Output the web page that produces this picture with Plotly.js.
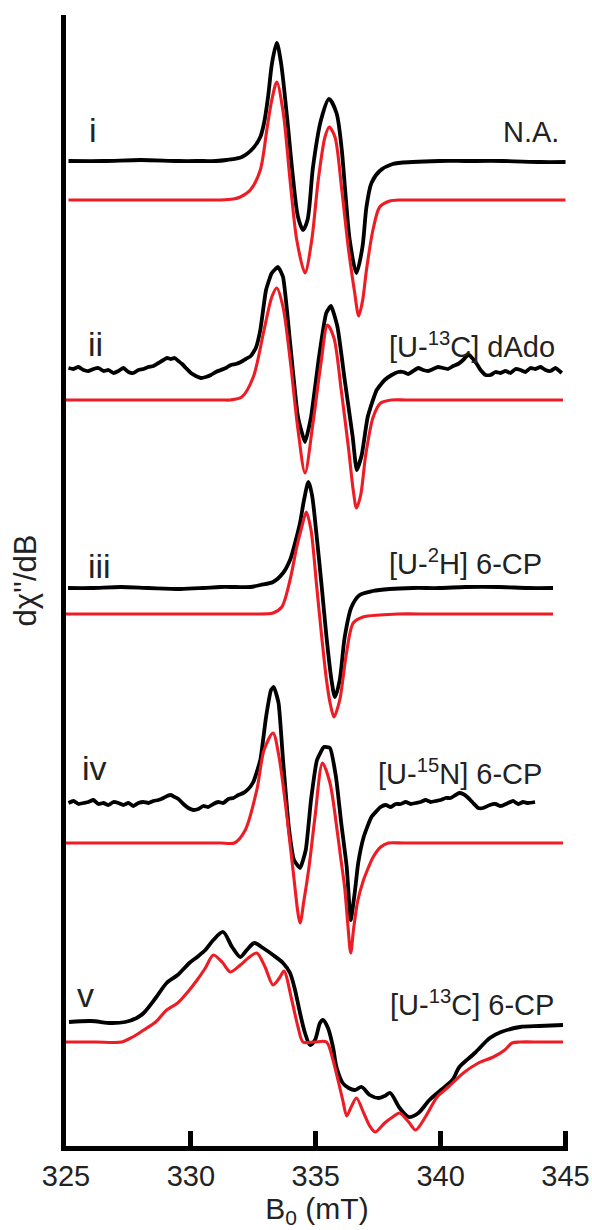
<!DOCTYPE html>
<html><head><meta charset="utf-8">
<script src="https://cdn.plot.ly/plotly-3.0.1.min.js"></script>
<style>html,body{margin:0;padding:0;background:#fff}#chart{width:592px;height:1230px}</style>
</head><body><div id="chart"></div>
<script>
// ---- Data (field B0 in mT, signal in arbitrary units relative to each baseline) ----
const spectrumIds = ["i", "ii", "iii", "iv", "v"];
const sampleLabels = ["N.A.", "[U-<sup>13</sup>C] dAdo", "[U-<sup>2</sup>H] 6-CP", "[U-<sup>15</sup>N] 6-CP", "[U-<sup>13</sup>C] 6-CP"];
const expOffset = [987, 778, 560, 345, 126];   // experimental trace baselines
const simOffset = [948, 748, 534, 305, 106];   // simulated trace baselines
const xTicks = [325, 330, 335, 340, 345];

// i : N.A.
const exp1_B = [325.1, 326.5, 328, 329.5, 330.5, 331.0, 331.42, 332.04, 332.5, 332.78, 332.93, 333.09, 333.25, 333.44, 333.61, 333.85, 334.07, 334.29, 334.49, 334.67, 334.89, 335.21, 335.53, 335.83, 336.03, 336.2, 336.36, 336.63, 336.87, 337.03, 337.23, 337.56, 338.08, 338.88, 339.95, 341, 342.5, 344, 345];
const exp1_S = [0, 0, 1, 0, 0, 0, 1, 4, 13, 24, 38, 64, 98, 118, 98, 44, -12, -56, -69, -59, -6, 41, 62, 48, 14, -36, -79, -112, -86, -46, -22, -10, -3, -1, 0, 0, 0, -1, -1];
const sim1_B = [325.1, 326.5, 328, 329.5, 330.5, 331.2, 331.7, 331.98, 332.38, 332.78, 333.04, 333.24, 333.44, 333.7, 333.97, 334.24, 334.57, 334.84, 335.1, 335.37, 335.54, 335.77, 336.03, 336.3, 336.56, 336.72, 336.88, 337.03, 337.29, 337.56, 337.96, 338.4, 339, 340, 341.5, 343, 345];
const sim1_S = [0, 0, 0, 0, 0, 0, 1, 3, 10, 30, 70, 100, 118, 87, 20, -40, -73, -40, 20, 63, 73, 63, 13, -47, -93, -116, -100, -70, -30, -7, -1, 0, 0, 0, 0, 0, 0];

// ii : [U-13C] dAdo
const exp2_B = [325.1, 325.3, 325.5, 325.7, 325.9, 326.1, 326.3, 326.5, 326.7, 326.9, 327.1, 327.3, 327.5, 327.7, 327.9, 328.1, 328.3, 328.5, 328.7, 328.9, 329.05, 329.2, 329.35, 329.5, 329.65, 329.8, 330.0, 330.2, 330.4, 330.6, 330.8, 331.0, 331.2, 331.4, 331.6, 331.8, 332.0, 332.2, 332.4, 332.6, 332.78, 333.01, 333.24, 333.49, 333.69, 333.99, 334.29, 334.57, 334.81, 335.13, 335.42, 335.61, 335.87, 336.16, 336.48, 336.64, 336.84, 337.08, 337.44, 337.76, 338.04, 338.3, 338.5, 338.7, 338.9, 339.1, 339.3, 339.5, 339.7, 339.9, 340.1, 340.3, 340.5, 340.7, 340.9, 341.05, 341.15, 341.3, 341.45, 341.6, 341.8, 342.0, 342.2, 342.4, 342.6, 342.8, 343.0, 343.2, 343.4, 343.6, 343.8, 344.0, 344.2, 344.4, 344.6, 344.85];
const exp2_S = [2, 1, 3, 0, -1, 1, 2, -1, 0, -3, -1, 2, -2, -3, 0, 1, 3, 4, 7, 10, 12, 11, 12, 9, 6, 2, -3, -6, -8, -7, -5, -2, 0, 2, 5, 6, 8, 11, 14, 22, 40, 80, 97, 103, 93, 23, -47, -72, -47, 13, 57, 64, 43, -10, -67, -100, -85, -47, -20, -10, -5, -2, -2, -4, -1, 2, 0, -1, 1, 3, 2, 1, 4, 6, 10, 14, 15, 11, 6, 0, -5, -5, -2, -3, -1, -3, 1, 0, -2, 2, 1, 3, 0, -1, 2, -3];
const sim2_B = [325.0, 326.5, 328, 329.5, 330.5, 331.2, 331.58, 332.04, 332.5, 332.93, 333.24, 333.44, 333.69, 333.99, 334.29, 334.57, 334.89, 335.21, 335.47, 335.73, 336.02, 336.32, 336.5, 336.63, 336.8, 337.0, 337.3, 337.6, 338.04, 338.6, 339.5, 341, 342.5, 344, 344.9];
const sim2_S = [0, 0, 0, 0, 0, 0, 0, 3, 23, 70, 103, 112, 93, 37, -30, -73, -23, 37, 75, 62, 10, -50, -90, -108, -95, -55, -17, -3, 0, 0, 0, 0, 0, 0, 0];

// iii : [U-2H] 6-CP
const exp3_B = [325.08, 326, 327.19, 328.3, 329.59, 330.5, 331.18, 331.8, 332.38, 332.78, 333.29, 333.69, 333.97, 334.17, 334.37, 334.53, 334.71, 334.85, 335.04, 335.24, 335.43, 335.63, 335.77, 335.96, 336.16, 336.43, 336.76, 337.28, 337.96, 338.9, 339.95, 341, 342.34, 343.5, 344.5];
const exp3_S = [0, 0, 1, 0, -1, 0, 1, 1, 1, 3, 6, 15, 28, 45, 65, 88, 106, 93, 51, 1, -49, -92, -109, -92, -49, -19, -7, -3, -1, 0, 0, 1, 1, 0, 0];
const sim3_B = [325.0, 326.5, 328, 329.5, 330.5, 331.5, 332.5, 333.29, 333.64, 333.97, 334.24, 334.44, 334.62, 334.81, 335.04, 335.24, 335.43, 335.59, 335.73, 335.96, 336.23, 336.5, 336.89, 337.56, 338.3, 339.5, 341, 342.5, 344.5];
const sim3_S = [0, 0, 0, 0, 0, 0, 0, 1, 7, 34, 67, 87, 102, 84, 27, -23, -66, -91, -103, -86, -39, -9, -3, -1, 0, 0, 0, 0, 0];

// iv : [U-15N] 6-CP
const exp4_B = [325.1, 325.3, 325.5, 325.7, 325.9, 326.1, 326.3, 326.5, 326.7, 326.9, 327.1, 327.3, 327.5, 327.7, 327.9, 328.1, 328.3, 328.5, 328.7, 328.9, 329.05, 329.2, 329.35, 329.5, 329.7, 329.9, 330.1, 330.3, 330.5, 330.7, 330.9, 331.1, 331.3, 331.5, 331.7, 331.9, 332.1, 332.3, 332.5, 332.78, 333.01, 333.21, 333.32, 333.51, 333.69, 333.92, 334.13, 334.37, 334.6, 334.81, 335.05, 335.33, 335.57, 335.81, 336.02, 336.24, 336.4, 336.56, 336.7, 336.92, 337.23, 337.6, 337.8, 338.0, 338.2, 338.4, 338.6, 338.8, 339.0, 339.2, 339.4, 339.6, 339.8, 340.0, 340.2, 340.4, 340.6, 340.75, 340.9, 341.07, 341.3, 341.51, 341.7, 341.97, 342.2, 342.4, 342.7, 342.9, 343.1, 343.3, 343.5, 343.78];
const exp4_S = [0, 2, -1, 0, 1, 3, -1, 0, -2, 1, 0, -2, 0, -3, 0, 1, 0, 2, 3, 5, 7, 8, 6, 4, -1, -5, -7, -6, -3, -4, -1, 1, 0, 4, 5, 8, 10, 14, 21, 43, 86, 113, 116, 100, 43, -24, -57, -65, -47, 3, 43, 56, 55, 26, -20, -64, -117, -90, -60, -34, -14, -4, -2, -4, -1, -1, 1, -1, 0, 1, 3, 1, 2, 3, 5, 5, 8, 10, 9, 6, 0, -5, -5, -2, -1, -3, 0, 2, -1, 1, 0, 1];
const sim4_B = [325.0, 326.5, 328, 329.5, 330.5, 331.2, 331.74, 332.18, 332.64, 332.93, 333.29, 333.53, 333.85, 334.09, 334.37, 334.53, 334.73, 334.97, 335.27, 335.57, 335.87, 336.0, 336.16, 336.28, 336.4, 336.52, 336.68, 336.9, 337.1, 337.3, 337.6, 337.91, 338.5, 339.5, 341, 342.5, 344.9];
const sim4_S = [0, 0, 0, 0, 0, 0, 0, 13, 53, 93, 110, 86, 26, -27, -80, -57, -24, 26, 80, 60, 10, -15, -45, -80, -110, -85, -58, -38, -25, -14, -4, 0, 0, 0, 0, 0, 0];

// v : [U-13C] 6-CP
const exp5_B = [325.12, 326.0, 326.79, 327.37, 327.83, 328.11, 328.59, 329.03, 329.47, 329.94, 330.25, 330.58, 330.9, 331.29, 331.65, 331.98, 332.24, 332.54, 332.89, 333.29, 333.69, 333.97, 334.17, 334.37, 334.57, 334.77, 334.97, 335.17, 335.29, 335.49, 335.69, 335.83, 336.08, 336.32, 336.56, 336.84, 337.16, 337.52, 337.76, 337.98, 338.36, 338.72, 339.11, 339.55, 340.01, 340.47, 340.75, 341.37, 341.97, 342.42, 343.18, 343.94, 344.9];
const exp5_S = [0, 1, -1, 0, 4, 9, 24, 39, 47, 59, 65, 72, 82, 90, 75, 65, 72, 79, 74, 67, 59, 49, 32, 9, -11, -23, -18, -1, 2, -6, -25, -45, -61, -66, -68, -65, -73, -76, -74, -71, -86, -95, -91, -78, -68, -58, -45, -31, -16, -10, -5, -4, -3];
const sim5_B = [325.0, 326.2, 327.23, 327.67, 328.11, 328.59, 329.03, 329.47, 329.94, 330.25, 330.58, 330.9, 331.25, 331.58, 331.98, 332.3, 332.64, 332.97, 333.29, 333.57, 333.73, 334.04, 334.29, 334.49, 334.95, 335.43, 335.69, 335.89, 336.08, 336.24, 336.4, 336.63, 336.92, 337.16, 337.38, 337.76, 338.08, 338.36, 338.72, 339.0, 339.39, 339.86, 340.31, 340.91, 341.51, 342.11, 342.57, 342.86, 343.18, 344.0, 344.9];
const sim5_S = [0, 0, 0, 5, 12, 20, 32, 39, 52, 62, 74, 87, 80, 70, 77, 84, 89, 75, 57, 65, 71, 42, 15, 0, 0, 0, -18, -38, -58, -74, -66, -56, -71, -84, -90, -81, -75, -71, -80, -88, -75, -55, -45, -31, -21, -15, -8, -1, 0, 0, 0];

const expB = [exp1_B, exp2_B, exp3_B, exp4_B, exp5_B];
const expS = [exp1_S, exp2_S, exp3_S, exp4_S, exp5_S];
const simB = [sim1_B, sim2_B, sim3_B, sim4_B, sim5_B];
const simS = [sim1_S, sim2_S, sim3_S, sim4_S, sim5_S];
const noisy = [false, true, false, true, false];

// ---- Build traces ----
const traces = [];
for (let k = 0; k < spectrumIds.length; k++) {
  traces.push({
    type: 'scatter', mode: 'lines', name: spectrumIds[k] + ' exp',
    x: expB[k], y: expS[k].map(v => v + expOffset[k]),
    line: {color: '#000000', width: 3.8, shape: 'spline', smoothing: noisy[k] ? 0.45 : 0.8},
    hoverinfo: 'skip'
  });
  traces.push({
    type: 'scatter', mode: 'lines', name: spectrumIds[k] + ' sim',
    x: simB[k], y: simS[k].map(v => v + simOffset[k]),
    line: {color: '#ee1c24', width: 3.1, shape: 'spline', smoothing: 0.8},
    hoverinfo: 'skip'
  });
}

// ---- Axes ranges ----
const xRange = [325, 345.1];
const yRange = [2, 1133];
const toPX = v => (v - xRange[0]) / (xRange[1] - xRange[0]);
const toPY = v => (v - yRange[0]) / (yRange[1] - yRange[0]);

// ---- Annotations (placed in field / signal units, converted to paper) ----
const idX = [325.84, 325.8, 325.8, 325.56, 325.36];
const idY = [1018, 804, 582, 380, 153];
const labX = [344.82, 344.66, 344.14, 344.14, 344.62];
const labY = [1016, 803, 586, 376, 145];
const annotations = [];
for (let k = 0; k < spectrumIds.length; k++) {
  annotations.push({x: toPX(idX[k]), y: toPY(idY[k]), xref: 'paper', yref: 'paper', text: spectrumIds[k],
    showarrow: false, xanchor: 'left', yanchor: 'middle', font: {size: 34, color: '#222'}});
  annotations.push({x: toPX(labX[k]), y: toPY(labY[k]), xref: 'paper', yref: 'paper', text: sampleLabels[k],
    showarrow: false, xanchor: 'right', yanchor: 'middle', font: {size: 29, color: '#222'}});
}

const layout = {
  width: 592, height: 1230,
  margin: {l: 66, r: 24, t: 15, b: 84, pad: 0},
  paper_bgcolor: '#ffffff', plot_bgcolor: '#ffffff',
  showlegend: false,
  font: {family: 'Liberation Sans, Arial, sans-serif', color: '#222', size: 28},
  xaxis: {
    range: xRange, tickvals: xTicks,
    ticks: 'inside', ticklen: 15, tickwidth: 5, tickcolor: '#000',
    showline: true, linewidth: 5, linecolor: '#000',
    showgrid: false, zeroline: false, tickfont: {size: 29, color: '#222'},
    title: {text: 'B<sub>0</sub> (mT)', font: {size: 30, color: '#222'}, standoff: 4}
  },
  yaxis: {
    range: yRange, showticklabels: false, ticks: '',
    showline: true, linewidth: 5, linecolor: '#000',
    showgrid: false, zeroline: false,
    title: {text: "d\u03c7''/dB", font: {size: 31, color: '#222'}, standoff: 17}
  },
  annotations: annotations
};

Plotly.newPlot('chart', traces, layout, {staticPlot: true, displayModeBar: false});
</script></body></html>
